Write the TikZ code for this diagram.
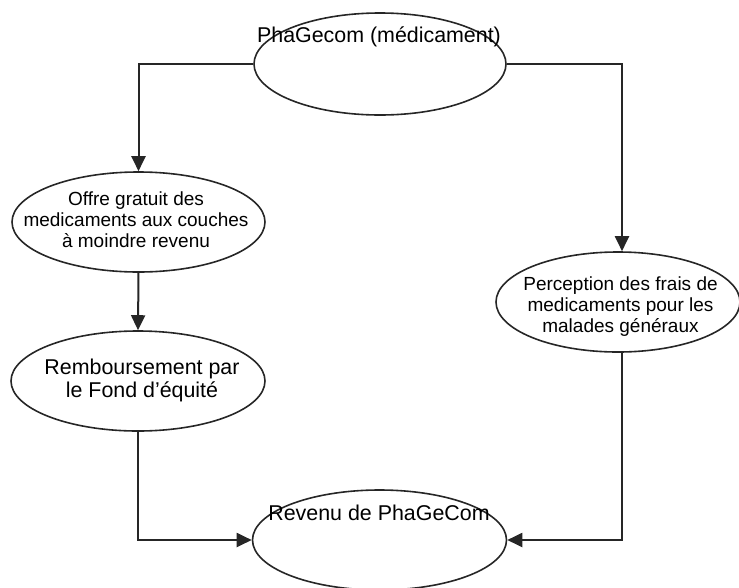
\documentclass[tikz,border=0pt]{standalone}
\usepackage{fontspec}
\setmainfont{Liberation Sans}
\usetikzlibrary{shapes.geometric,arrows.meta}
\begin{document}
\begin{tikzpicture}[x=1pt,y=-1pt,
  oval/.style={draw=black!85,line width=1.6pt,ellipse,inner sep=0pt},
  big/.style={font=\fontsize{21.4}{23}\selectfont,align=center,inner sep=0pt},
  small/.style={font=\fontsize{19}{21}\selectfont,align=center,inner sep=0pt},
  conn/.style={draw=black!85,line width=2pt,-{Triangle[length=15pt,width=14pt]}}]
\useasboundingbox (0,0) rectangle (739,587);
\node[oval,minimum width=252pt,minimum height=102pt] (top) at (380,64) {};
\node[oval,minimum width=253pt,minimum height=100pt] (offre) at (138.5,222) {};
\node[oval,minimum width=244pt,minimum height=100pt] (perc) at (618,302) {};
\node[oval,minimum width=254pt,minimum height=100pt] (remb) at (138,381) {};
\node[oval,minimum width=254pt,minimum height=100pt] (rev) at (379.5,540) {};
\node[big,anchor=base] (toplbl) at (379,42) {PhaGecom (médicament)};
\node[small] (offrelbl) at (136,220) {Offre gratuit des\\medicaments aux couches\\à moindre revenu};
\node[small] (perclbl) at (620.5,307) {Perception des frais de\\medicaments pour les\\malades généraux};
\node[big] (remblbl) at (142,380) {Remboursement par\\le Fond d’équité};
\node[big,anchor=base] (revlbl) at (379,520) {Revenu de PhaGeCom};
\draw[conn] (top.west) -| (offre.north);
\draw[conn] (top.east) -| ([xshift=4pt]perc.north);
\draw[conn] (offre.south) -- (remb.north);
\draw[conn] (remb.south) |- (rev.west);
\draw[conn] ([xshift=4pt]perc.south) |- (rev.east);
\end{tikzpicture}
\end{document}
